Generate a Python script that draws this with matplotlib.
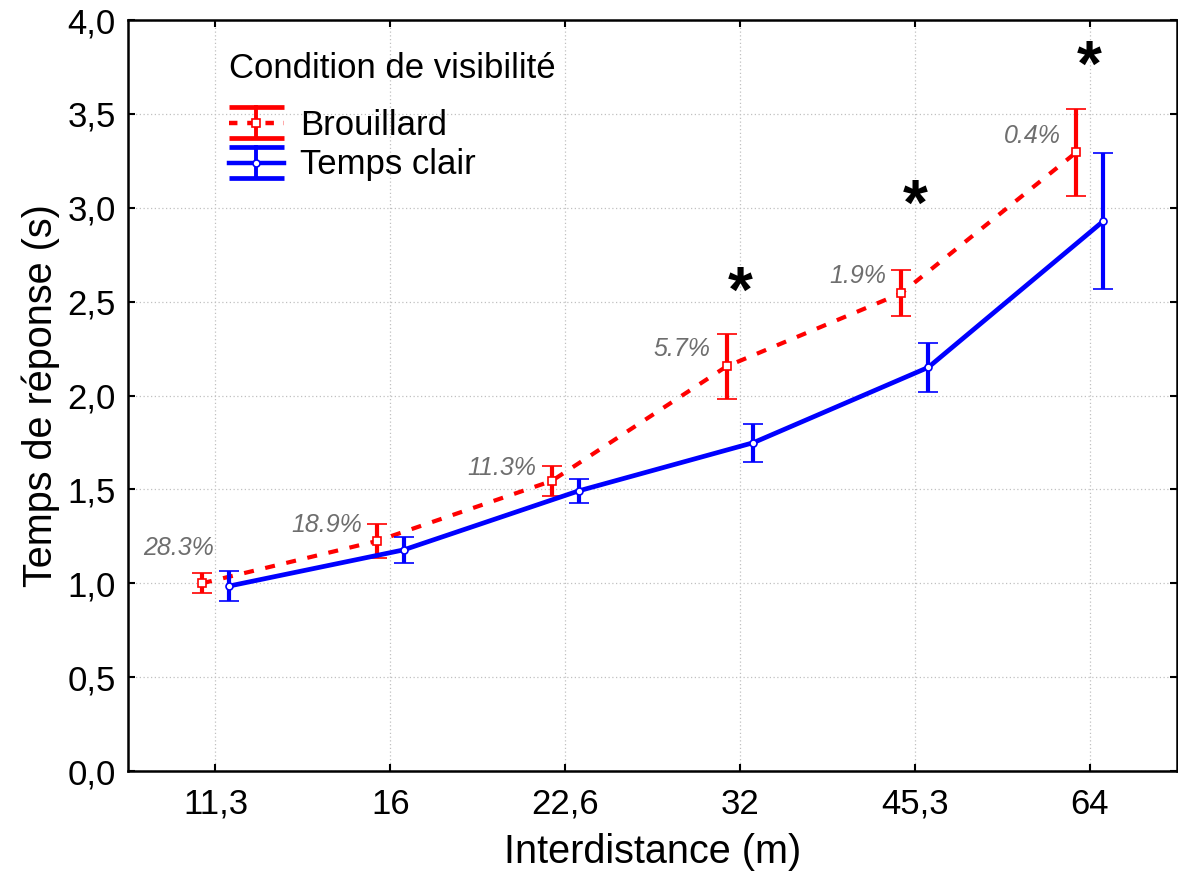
import matplotlib
matplotlib.use("Agg")
import matplotlib.pyplot as plt
import numpy as np
from matplotlib.lines import Line2D
from matplotlib.legend_handler import HandlerBase

plt.rcParams['font.family'] = ['Liberation Sans', 'DejaVu Sans']

# ---- data ----
x_labels = ['11,3', '16', '22,6', '32', '45,3', '64']
fog_mean = [1.00, 1.225, 1.545, 2.155, 2.545, 3.295]
fog_err = [0.053, 0.092, 0.082, 0.172, 0.122, 0.233]
clear_mean = [0.985, 1.178, 1.492, 1.749, 2.150, 2.928]
clear_err = [0.079, 0.070, 0.063, 0.102, 0.131, 0.362]
pct_labels = ['28.3%', '18.9%', '11.3%', '5.7%', '1.9%', '0.4%']
sig_index = [3, 4, 5]
sig_y = [2.62, 3.08, 3.82]
y_ticks = [0.0, 0.5, 1.0, 1.5, 2.0, 2.5, 3.0, 3.5, 4.0]

RED = '#ff0000'
BLUE = '#0000ff'

fig = plt.figure(figsize=(11.78, 8.72), dpi=100)
ax = fig.add_axes([0.1087, 0.1158, 0.8905, 0.8612])

x = np.arange(len(x_labels))
dx = 0.077

ax.errorbar(x - dx, fog_mean, yerr=fog_err, color=RED, lw=3, elinewidth=3,
            capsize=7.5, capthick=3.2, marker='s', ms=6, mfc='white', mec=RED,
            mew=1.2, dashes=(2.4, 2.8), zorder=3)
ax.errorbar(x + dx, clear_mean, yerr=clear_err, color=BLUE, lw=3.4, elinewidth=3,
            capsize=7.5, capthick=3.2, marker='o', ms=5, mfc='white', mec=BLUE,
            mew=1.2, zorder=4)

# percentage annotations (offsets in pixels converted to points)
pct_off_px = [(12, 35), (-15, 16), (-15, 13), (-16, 17), (-15, 17), (-15, 16)]
for i, lab in enumerate(pct_labels):
    ox, oy = pct_off_px[i]
    ax.annotate(lab, (x[i] - dx, fog_mean[i]), xytext=(ox * 0.72, oy * 0.72),
                textcoords='offset points', ha='right', va='center',
                fontsize=18, style='italic', color='#6e6e6e', zorder=5)

# significance asterisks (glyph ink sits high in its box: shift down)
for i, yv in zip(sig_index, sig_y):
    ax.annotate('*', (x[i], yv), xytext=(0, -11), textcoords='offset points',
                ha='center', va='center', fontsize=46, fontweight='bold',
                color='black', zorder=5)

ax.set_xlim(-0.5, len(x_labels) - 0.5)
ax.set_ylim(0, 4.0)
ax.set_xticks(x)
ax.set_xticklabels(x_labels)
ax.set_yticks(y_ticks)
ax.set_yticklabels([f'{v:.1f}'.replace('.', ',') for v in y_ticks])
ax.tick_params(direction='in', length=5, width=1.5, labelsize=25,
               top=True, right=True, pad=9)
ax.tick_params(axis='x', pad=12)
ax.grid(True, linestyle=(0, (1, 2)), color='#c0c0c0', lw=0.9)
for s in ax.spines.values():
    s.set_linewidth(1.8)
    s.set_color('black')

ax.set_xlabel('Interdistance (m)', fontsize=28.5, labelpad=9)
ax.set_ylabel('Temps de réponse (s)', fontsize=28.5, labelpad=5)


class ErrHandler(HandlerBase):
    def __init__(self, color, dashed, marker, ms):
        super().__init__()
        self.color = color
        self.dashed = dashed
        self.marker = marker
        self.ms = ms

    def create_artists(self, legend, orig_handle, xdescent, ydescent,
                       width, height, fontsize, trans):
        x0 = -xdescent
        x1 = x0 + width
        yb = -ydescent
        yt = yb + height
        ym = (yb + yt) / 2
        cx = (x0 + x1) / 2
        arts = []
        for yy in (yb, yt):
            arts.append(Line2D([x0, x1], [yy, yy], color=self.color, lw=3.4,
                               solid_capstyle='butt', transform=trans))
        arts.append(Line2D([cx, cx], [yb, yt], color=self.color, lw=2.8,
                           transform=trans))
        mid = Line2D([x0, x1], [ym, ym], color=self.color, lw=3.2,
                     transform=trans)
        if self.dashed:
            mid.set_dashes((1.9, 2.2))
        arts.append(mid)
        arts.append(Line2D([cx], [ym], marker=self.marker, ms=self.ms,
                           mfc='white', mec=self.color, mew=1.2,
                           ls='none', transform=trans))
        return arts


h_fog = Line2D([], [], color=RED)
h_clear = Line2D([], [], color=BLUE)
leg = ax.legend([h_fog, h_clear], ['Brouillard', 'Temps clair'],
                handler_map={h_fog: ErrHandler(RED, True, 's', 6),
                             h_clear: ErrHandler(BLUE, False, 'o', 5)},
                title='Condition de visibilité', title_fontsize=25,
                fontsize=25, frameon=False, loc='upper left',
                bbox_to_anchor=(0.076, 0.985), handlelength=1.6,
                handleheight=1.0, handletextpad=0.45, labelspacing=0.15,
                alignment='left', borderaxespad=0.2)
# extra gap between the legend title and its entries
leg._legend_box.sep = 16

fig.savefig('out.png', dpi=100)
